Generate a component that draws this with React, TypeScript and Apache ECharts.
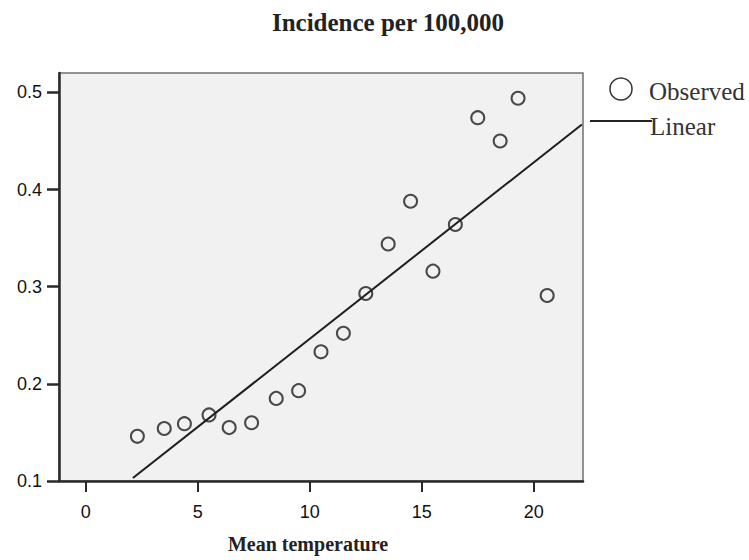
import React, { useEffect, useRef } from "react";
import * as echarts from "echarts";

// Observed points (mean temperature, incidence per 100,000)
const temperature = [2.3, 3.5, 4.4, 5.5, 6.4, 7.4, 8.5, 9.5, 10.5, 11.5, 12.5, 13.5, 14.5, 15.5, 16.5, 17.5, 18.5, 19.3, 20.6];
const incidence = [0.146, 0.154, 0.159, 0.168, 0.155, 0.16, 0.185, 0.193, 0.233, 0.252, 0.293, 0.344, 0.388, 0.316, 0.364, 0.474, 0.45, 0.494, 0.291];

// Linear fit endpoints
const linearX = [2.1, 22.15];
const linearY = [0.103, 0.467];

const xTicks = [0, 5, 10, 15, 20];
const yTicks = [0.1, 0.2, 0.3, 0.4, 0.5];

const titleText = "Incidence per 100,000";
const xName = "Mean temperature";
const legendNames = ["Observed", "Linear"];

export default function App() {
  const ref = useRef<HTMLDivElement>(null);
  useEffect(() => {
    if (!ref.current) return;
    const chart = echarts.init(ref.current, null, { renderer: "svg" });
    const serif = "'Liberation Serif', 'Times New Roman', serif";
    const sans = "'Liberation Sans', Arial, sans-serif";
    chart.setOption({
      animation: false,
      backgroundColor: "#ffffff",
      grid: {
        left: 59,
        top: 73,
        right: 166,
        bottom: 79,
        show: true,
        backgroundColor: "#f1f1f1",
        borderColor: "#707070",
        borderWidth: 1.5,
      },
      xAxis: {
        type: "value",
        min: -1.2,
        max: 22.2,
        splitLine: { show: false },
        axisLine: { onZero: false, lineStyle: { color: "#2a2a2a", width: 2.5 } },
        axisTick: { show: true, length: 11, customValues: xTicks, lineStyle: { color: "#2a2a2a", width: 2 } },
        axisLabel: { customValues: xTicks, color: "#111", fontFamily: sans, fontSize: 18, margin: 22 },
      },
      yAxis: {
        type: "value",
        min: 0.1,
        max: 0.52,
        splitLine: { show: false },
        axisLine: { onZero: false, lineStyle: { color: "#2a2a2a", width: 2.5 } },
        axisTick: { show: true, length: 12, customValues: yTicks, lineStyle: { color: "#2a2a2a", width: 2.5 } },
        axisLabel: {
          customValues: yTicks,
          color: "#111",
          fontFamily: sans,
          fontSize: 18,
          margin: 17,
          formatter: (v: number) => v.toFixed(1),
        },
      },
      series: [
        {
          name: legendNames[1],
          type: "line",
          data: linearX.map((x, i) => [x, linearY[i]]),
          showSymbol: false,
          symbol: "none",
          lineStyle: { color: "#1e1e1e", width: 2 },
          z: 2,
        },
        {
          name: legendNames[0],
          type: "scatter",
          data: temperature.map((x, i) => [x, incidence[i]]),
          symbol: "circle",
          symbolSize: 13,
          itemStyle: { color: "rgba(0,0,0,0)", borderColor: "#1e1e1e", borderWidth: 2 },
          z: 3,
        },
      ],
      graphic: [
        {
          type: "text",
          x: 388,
          y: 10,
          style: {
            text: titleText,
            font: `bold 25px ${serif}`,
            fill: "#222",
            textAlign: "center",
          },
        },
        {
          type: "text",
          x: 308,
          y: 534,
          style: {
            text: xName,
            font: `bold 20px ${serif}`,
            fill: "#222",
            textAlign: "center",
          },
        },
        {
          type: "circle",
          shape: { cx: 621, cy: 89, r: 11 },
          style: { fill: "none", stroke: "#333", lineWidth: 1.5 },
        },
        {
          type: "text",
          x: 649,
          y: 91,
          style: {
            text: legendNames[0],
            font: `25px ${serif}`,
            fill: "#333",
            textVerticalAlign: "middle",
          },
        },
        {
          type: "line",
          shape: { x1: 590, y1: 121, x2: 652, y2: 121 },
          style: { stroke: "#222", lineWidth: 1.8 },
        },
        {
          type: "text",
          x: 650,
          y: 126,
          style: {
            text: legendNames[1],
            font: `25px ${serif}`,
            fill: "#333",
            textVerticalAlign: "middle",
          },
        },
      ],
    });
    return () => chart.dispose();
  }, []);
  return (
    <div
      ref={ref}
      style={{ position: "absolute", left: 0, top: 0, width: 749, height: 560 }}
    />
  );
}
